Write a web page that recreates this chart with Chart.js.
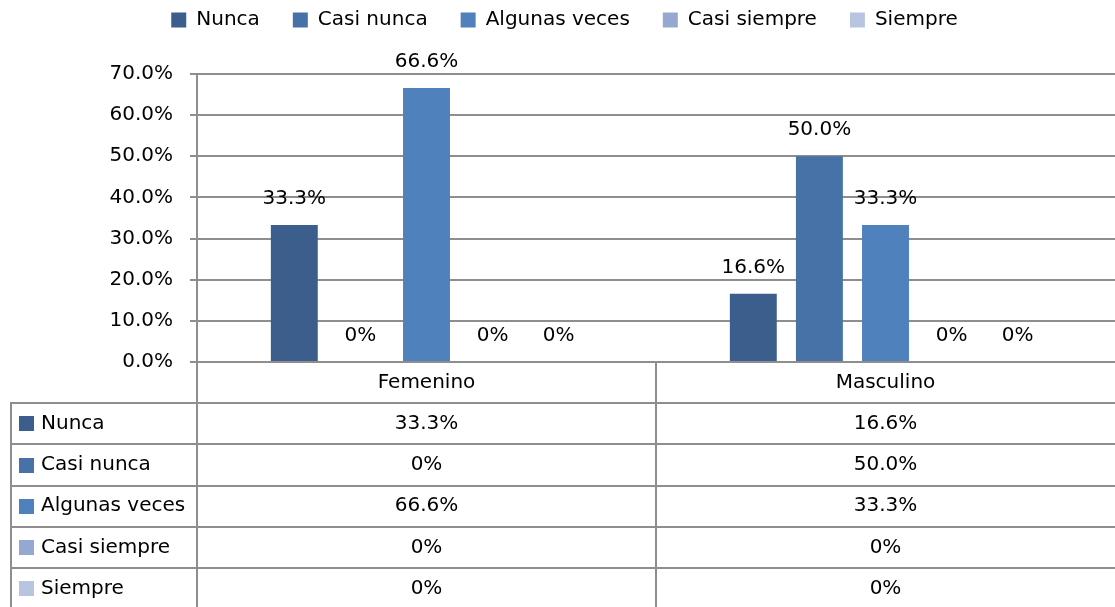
<!DOCTYPE html>
<html>
<head>
<meta charset="utf-8">
<script src="https://cdn.jsdelivr.net/npm/chart.js@4.4.0/dist/chart.umd.min.js"></script>
<style>
  html, body { margin: 0; padding: 0; background: #fff; }
</style>
</head>
<body>
<canvas id="genderChart" width="1115" height="607"></canvas>
<script>
let categories = ['Femenino', 'Masculino'];
let seriesNames = ['Nunca', 'Casi nunca', 'Algunas veces', 'Casi siempre', 'Siempre'];
let nunca = [33.3, 16.6];
let casiNunca = [0, 50.0];
let algunasVeces = [66.6, 33.3];
let casiSiempre = [0, 0];
let siempre = [0, 0];
let yTicks = [0, 10, 20, 30, 40, 50, 60, 70];

const seriesValues = [nunca, casiNunca, algunasVeces, casiSiempre, siempre];
const seriesColors = ['rgb(59,94,140)', 'rgb(70,114,167)', 'rgb(79,129,189)', 'rgb(149,169,208)', 'rgb(185,197,224)'];

const lineColor = '#8e8e8e'
const lineW = 2
const fontName = '"DejaVu Sans"'
const fontSize = 20
const legendPad = 33

Chart.defaults.font.family = fontName
Chart.defaults.font.size = fontSize
Chart.defaults.color = '#000'

function fmt(v) {
    return v === 0 ? '0%' : v.toFixed(1) + '%'
}

// make the legend a fixed height and pull it up so its row sits near the top
const legendFit = {
    id: 'legendFit',
    beforeInit(chart) {
        const fit = chart.legend.fit
        chart.legend.fit = function () {
            fit.call(this)
            this.height = 74
        }
    },
    afterLayout(chart) {
        const lg = chart.legend
        lg.top = 20 - legendPad - fontSize / 2
        lg.bottom = lg.top + lg.height
        lg.left += 7
        lg.right += 7
    }
}

const barLabels = {
    id: 'barLabels',
    afterDatasetsDraw(chart) {
        const ctx = chart.ctx
        ctx.save()
        ctx.font = fontSize + 'px ' + fontName
        ctx.fillStyle = '#000'
        ctx.textAlign = 'center'
        ctx.textBaseline = 'middle'
        chart.data.datasets.forEach((ds, i) => {
            chart.getDatasetMeta(i).data.forEach((bar, j) => {
                ctx.fillText(fmt(ds.data[j]), bar.x, bar.y - 26)
            })
        })
        ctx.restore()
    }
}

// data table under the plot, Excel style
const dataTable = {
    id: 'dataTable',
    afterDraw(chart) {
        const {ctx, chartArea, scales: {x}} = chart
        const rowH = 41.2
        const top = chartArea.bottom
        const bottom = chart.height
        const left = 11
        const right = chartArea.right
        const colEdge = Math.round((x.getPixelForValue(0) + x.getPixelForValue(1)) / 2)
        const axisX = Math.round(chartArea.left)

        ctx.save()
        ctx.strokeStyle = lineColor
        ctx.lineWidth = lineW
        ctx.beginPath()
        ctx.moveTo(axisX, top)
        ctx.lineTo(axisX, bottom)
        ctx.moveTo(colEdge, top)
        ctx.lineTo(colEdge, bottom)
        ctx.moveTo(left, top + rowH)
        ctx.lineTo(left, bottom)
        for (let k = 1; k <= seriesNames.length; k++) {
            const y = Math.round(top + rowH * k)
            ctx.moveTo(left - 1, y)
            ctx.lineTo(right, y)
        }
        ctx.stroke()

        ctx.font = fontSize + 'px ' + fontName
        ctx.fillStyle = '#000'
        ctx.textAlign = 'center'
        ctx.textBaseline = 'middle'
        categories.forEach((c, j) => {
            ctx.fillText(c, x.getPixelForValue(j), top + rowH / 2)
        })

        chart.data.datasets.forEach((ds, i) => {
            const yc = top + rowH * (i + 1) + rowH / 2
            ctx.fillStyle = ds.backgroundColor
            ctx.fillRect(19, Math.round(yc - 7.5), 15, 15)
            ctx.fillStyle = '#000'
            ctx.textAlign = 'left'
            ctx.fillText(ds.label, 41, yc)
            ctx.textAlign = 'center'
            ds.data.forEach((v, j) => {
                ctx.fillText(fmt(v), x.getPixelForValue(j), yc)
            })
        })
        ctx.restore()
    }
}

let datasets = seriesNames.map((name, i) => ({
    label: name,
    data: seriesValues[i],
    backgroundColor: seriesColors[i],
    borderWidth: 0,
    categoryPercentage: 0.72,
    barPercentage: 0.71
}))

let ctx = document.getElementById('genderChart').getContext('2d')

new Chart(ctx, {
    type: 'bar',
    data: {
        labels: categories,
        datasets: datasets
    },
    plugins: [legendFit, barLabels, dataTable],
    options: {
        responsive: false,
        animation: false,
        layout: {
            padding: {top: 0, right: 0, bottom: 245, left: 0}
        },
        scales: {
            x: {
                afterFit(scale) {
                    scale.height = 0
                },
                grid: {display: false},
                ticks: {display: false},
                border: {display: true, color: lineColor, width: lineW}
            },
            y: {
                min: 0,
                max: 70,
                afterBuildTicks(scale) {
                    scale.ticks = yTicks.map(v => ({value: v}))
                },
                afterFit(scale) {
                    scale.width = 197
                },
                ticks: {
                    padding: 17,
                    callback: (v) => v.toFixed(1) + '%'
                },
                grid: {
                    color: lineColor,
                    lineWidth: lineW,
                    tickLength: 7
                },
                border: {display: true, color: lineColor, width: lineW}
            }
        },
        plugins: {
            legend: {
                position: 'top',
                labels: {
                    boxWidth: 15,
                    boxHeight: 15,
                    padding: legendPad,
                    font: {size: fontSize}
                }
            },
            tooltip: {enabled: false}
        }
    }
})
</script>
</body>
</html>
